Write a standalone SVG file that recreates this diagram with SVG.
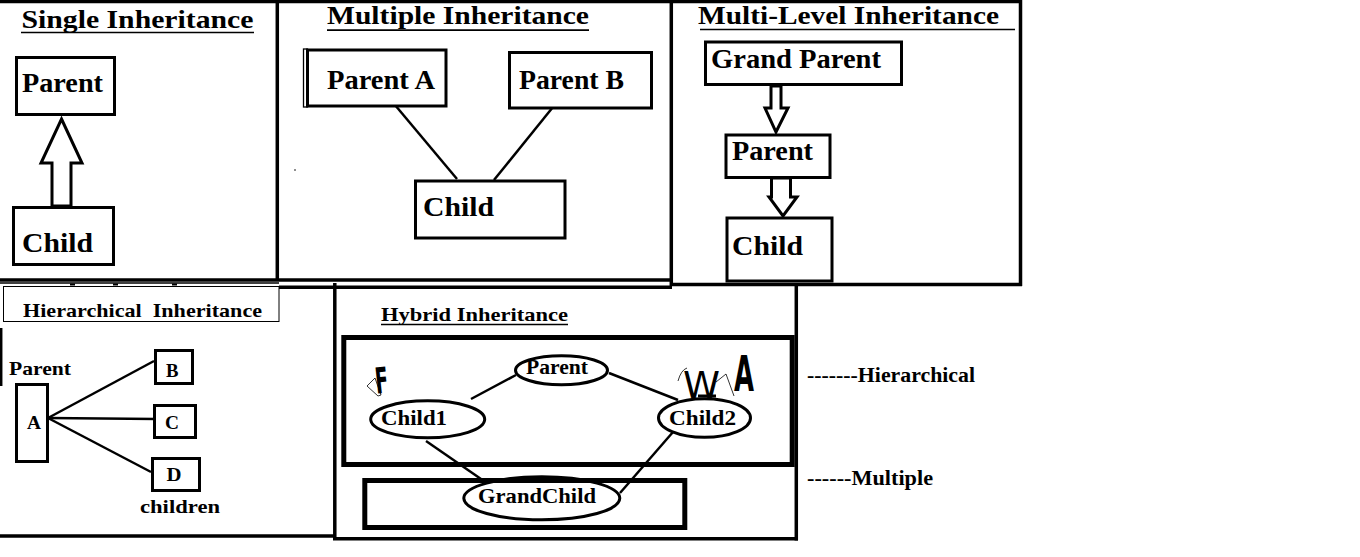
<svg xmlns="http://www.w3.org/2000/svg" width="1360" height="557" viewBox="0 0 1360 557">
<style>
.t{font-family:"Liberation Serif","Times New Roman",serif;font-weight:bold;fill:#000}
.big{font-size:27px}
.ttl{font-size:26px}
.sm{font-size:19px}
.md{font-size:20.5px}
.box{fill:#fff;stroke:#000;stroke-width:3}
.ell{fill:none;stroke:#000;stroke-width:3}
.ln{stroke:#000;stroke-width:2.5;fill:none}
.fr{stroke:#000;stroke-width:3.5;fill:none}
.ul{stroke:#000;stroke-width:1.7}
.hand{font-family:"DejaVu Sans",sans-serif;fill:#000}
.thin{stroke:#000;stroke-width:0.8;fill:none}
</style>
<rect x="0" y="0" width="1360" height="557" fill="#fff"/>

<g id="frames">
  <line class="fr" x1="0" y1="1.5" x2="1022" y2="1.5"/>
  <line class="fr" x1="277.3" y1="0" x2="277.3" y2="281"/>
  <line class="fr" x1="671.3" y1="0" x2="671.3" y2="286"/>
  <line class="fr" x1="1020.5" y1="0" x2="1020.5" y2="286"/>
  <line class="fr" x1="0" y1="280" x2="673" y2="280" stroke-width="3"/>
  <line x1="0" y1="283" x2="279" y2="283" stroke="#000" stroke-width="1.7"/>
  <line class="fr" x1="670" y1="284.5" x2="1022" y2="284.5" stroke-width="3"/>
  <line class="fr" x1="279" y1="287.3" x2="672" y2="287.3" stroke-width="2.7"/>
  <line class="fr" x1="334.8" y1="283" x2="334.8" y2="540" stroke-width="3.3"/>
  <line class="fr" x1="796.3" y1="284" x2="796.3" y2="540.5" stroke-width="3.3"/>
  <line class="fr" x1="0" y1="536" x2="336" y2="536" stroke-width="2.7"/>
  <line class="fr" x1="333" y1="538.7" x2="798" y2="538.7" stroke-width="3.3"/>
  <line x1="1.2" y1="328" x2="1.2" y2="386" stroke="#000" stroke-width="2.5"/>
  <rect x="70" y="283.5" width="5" height="2" fill="#000"/>
  <rect x="113" y="283.5" width="5" height="2" fill="#000"/>
  <rect x="172" y="283.5" width="5" height="2" fill="#000"/>
  <circle cx="295" cy="170" r="0.8" fill="#000"/>
  <circle cx="540" cy="98" r="0.8" fill="#000"/>
</g>

<g id="titles">
  <text class="t ttl" x="21.5" y="27.7" textLength="232" lengthAdjust="spacingAndGlyphs">Single Inheritance</text>
  <line class="ul" x1="21" y1="32.5" x2="254" y2="32.5"/>
  <text class="t ttl" x="327" y="24.3" textLength="262" lengthAdjust="spacingAndGlyphs">Multiple Inheritance</text>
  <line class="ul" x1="327" y1="30.2" x2="589" y2="30.2"/>
  <text class="t ttl" x="698" y="24" textLength="301" lengthAdjust="spacingAndGlyphs">Multi-Level Inheritance</text>
  <line class="ul" x1="700" y1="29.5" x2="1015" y2="29.5" stroke-width="2.2"/>
  <rect x="3.5" y="286.5" width="275.5" height="35" fill="none" stroke="#000" stroke-width="1"/>
  <text class="t sm" x="23" y="317" textLength="239" lengthAdjust="spacingAndGlyphs" xml:space="preserve">Hierarchical  Inheritance</text>
  <text class="t sm" x="381" y="321" textLength="187" lengthAdjust="spacingAndGlyphs">Hybrid Inheritance</text>
  <line class="ul" x1="381" y1="324.5" x2="568" y2="324.5"/>
  <text class="t md" x="807" y="382" textLength="168" lengthAdjust="spacingAndGlyphs">-------Hierarchical</text>
  <text class="t md" x="807" y="485" textLength="126" lengthAdjust="spacingAndGlyphs">------Multiple</text>
</g>

<g id="connectors">
  <polygon class="box" points="61.5,119 82,163 71,163 71,206 52,206 52,163 41,163"/>
  <line class="ln" x1="395" y1="105" x2="457" y2="179"/>
  <line class="ln" x1="553" y1="107" x2="494" y2="180"/>
  <polygon class="box" points="771,86 781,86 781,108 788,108 776,132 765,108 771,108"/>
  <polygon class="box" points="771.5,178 790.5,178 790.5,197 797,197 783,216 769,197 771.5,197"/>
  <rect x="775" y="174" width="17" height="5" fill="#000"/>
  <line class="ln" x1="48" y1="418" x2="154" y2="361"/>
  <line class="ln" x1="48" y1="418" x2="156" y2="419"/>
  <line class="ln" x1="48" y1="418" x2="151" y2="472"/>
  <line class="ln" x1="471" y1="399" x2="516" y2="375"/>
  <line class="ln" x1="609" y1="373" x2="678" y2="400"/>
  <line class="ln" x1="426" y1="441" x2="481" y2="479"/>
  <line class="ln" x1="673" y1="432" x2="620" y2="493"/>
</g>

<g id="single-parent">
  <rect class="box" x="16.5" y="57.5" width="98" height="57"/>
  <text class="t big" x="22" y="92" textLength="81" lengthAdjust="spacingAndGlyphs">Parent</text>
</g>
<g id="single-child">
  <rect class="box" x="13.5" y="207.5" width="100" height="57"/>
  <text class="t big" x="22" y="252" textLength="71" lengthAdjust="spacingAndGlyphs">Child</text>
</g>

<g id="multi-parent-a">
  <rect x="303.5" y="49" width="4" height="58" fill="#fff" stroke="#000" stroke-width="1.3"/>
  <rect class="box" x="307.5" y="50" width="138.5" height="56"/>
  <text class="t big" x="327" y="88.5" textLength="108" lengthAdjust="spacingAndGlyphs">Parent A</text>
</g>
<g id="multi-parent-b">
  <rect class="box" x="509.5" y="52.5" width="142" height="55.5"/>
  <text class="t big" x="519" y="88.5" textLength="105" lengthAdjust="spacingAndGlyphs">Parent B</text>
</g>
<g id="multi-child">
  <rect class="box" x="415.5" y="181" width="149.5" height="57"/>
  <text class="t big" x="423" y="216" textLength="71" lengthAdjust="spacingAndGlyphs">Child</text>
</g>

<g id="ml-grandparent">
  <rect class="box" x="705.5" y="42" width="196" height="42.5"/>
  <text class="t big" x="711" y="68" textLength="170" lengthAdjust="spacingAndGlyphs">Grand Parent</text>
</g>
<g id="ml-parent">
  <rect class="box" x="726" y="135" width="104" height="42.5"/>
  <text class="t big" x="732" y="160" textLength="81" lengthAdjust="spacingAndGlyphs">Parent</text>
</g>
<g id="ml-child">
  <rect class="box" x="727" y="218" width="105" height="63"/>
  <text class="t big" x="732" y="255" textLength="71" lengthAdjust="spacingAndGlyphs">Child</text>
</g>

<g id="h-parent">
  <text class="t sm" x="9" y="375" textLength="62" lengthAdjust="spacingAndGlyphs">Parent</text>
  <rect class="box" x="16.5" y="384.5" width="31" height="77"/>
  <text class="t sm" x="27" y="429" textLength="14" lengthAdjust="spacingAndGlyphs">A</text>
</g>
<g id="h-b">
  <rect class="box" x="155.5" y="350.5" width="37" height="33"/>
  <text class="t sm" x="166" y="377" textLength="12.5" lengthAdjust="spacingAndGlyphs">B</text>
</g>
<g id="h-c">
  <rect class="box" x="154.5" y="405.5" width="41" height="32"/>
  <text class="t sm" x="165" y="429" textLength="14" lengthAdjust="spacingAndGlyphs">C</text>
</g>
<g id="h-d">
  <rect class="box" x="152.5" y="458.5" width="47" height="32"/>
  <text class="t sm" x="166.5" y="480.7" textLength="15" lengthAdjust="spacingAndGlyphs">D</text>
  <text class="t sm" x="140" y="513" textLength="80" lengthAdjust="spacingAndGlyphs">children</text>
</g>

<g id="hy-hier-box">
  <rect x="343.8" y="337.5" width="448.4" height="127" fill="none" stroke="#000" stroke-width="5"/>
</g>
<g id="hy-multi-box">
  <rect x="364.8" y="480.5" width="320" height="47" fill="none" stroke="#000" stroke-width="5"/>
</g>
<g id="hy-parent">
  <ellipse class="ell" cx="561.5" cy="370.3" rx="46" ry="14.5"/>
  <text class="t md" x="526" y="374" textLength="62" lengthAdjust="spacingAndGlyphs">Parent</text>
</g>
<g id="hy-child1">
  <ellipse class="ell" cx="427.7" cy="419.3" rx="57" ry="18.5"/>
  <text class="t md" x="381" y="425" textLength="66" lengthAdjust="spacingAndGlyphs">Child1</text>
</g>
<g id="hy-child2">
  <ellipse class="ell" cx="704.5" cy="418" rx="46" ry="19.3"/>
  <text class="t md" x="669" y="425" textLength="67" lengthAdjust="spacingAndGlyphs">Child2</text>
</g>
<g id="hy-grandchild">
  <ellipse class="ell" cx="541.8" cy="498.3" rx="78" ry="21.5"/>
  <text class="t md" x="478" y="503" textLength="118" lengthAdjust="spacingAndGlyphs">GrandChild</text>
</g>

<g id="scribbles">
  <polygon class="thin" points="367,386 375,378 381,395 378,396"/>
  <text class="hand" x="375" y="393" font-size="36" font-weight="bold" textLength="13" lengthAdjust="spacingAndGlyphs" transform="rotate(-6 382 380)">F</text>
  <path class="thin" d="M678,381 Q681,370 687,368"/>
  <path class="thin" d="M716,382 L726,374 L734,396"/>
  <text class="hand" x="683" y="398" font-size="38" textLength="37" lengthAdjust="spacingAndGlyphs">W</text>
  <line x1="698" y1="396" x2="716" y2="396" stroke="#000" stroke-width="3"/>
  <text class="hand" x="734" y="391" font-size="50" font-weight="bold" textLength="20" lengthAdjust="spacingAndGlyphs">A</text>
</g>
</svg>
